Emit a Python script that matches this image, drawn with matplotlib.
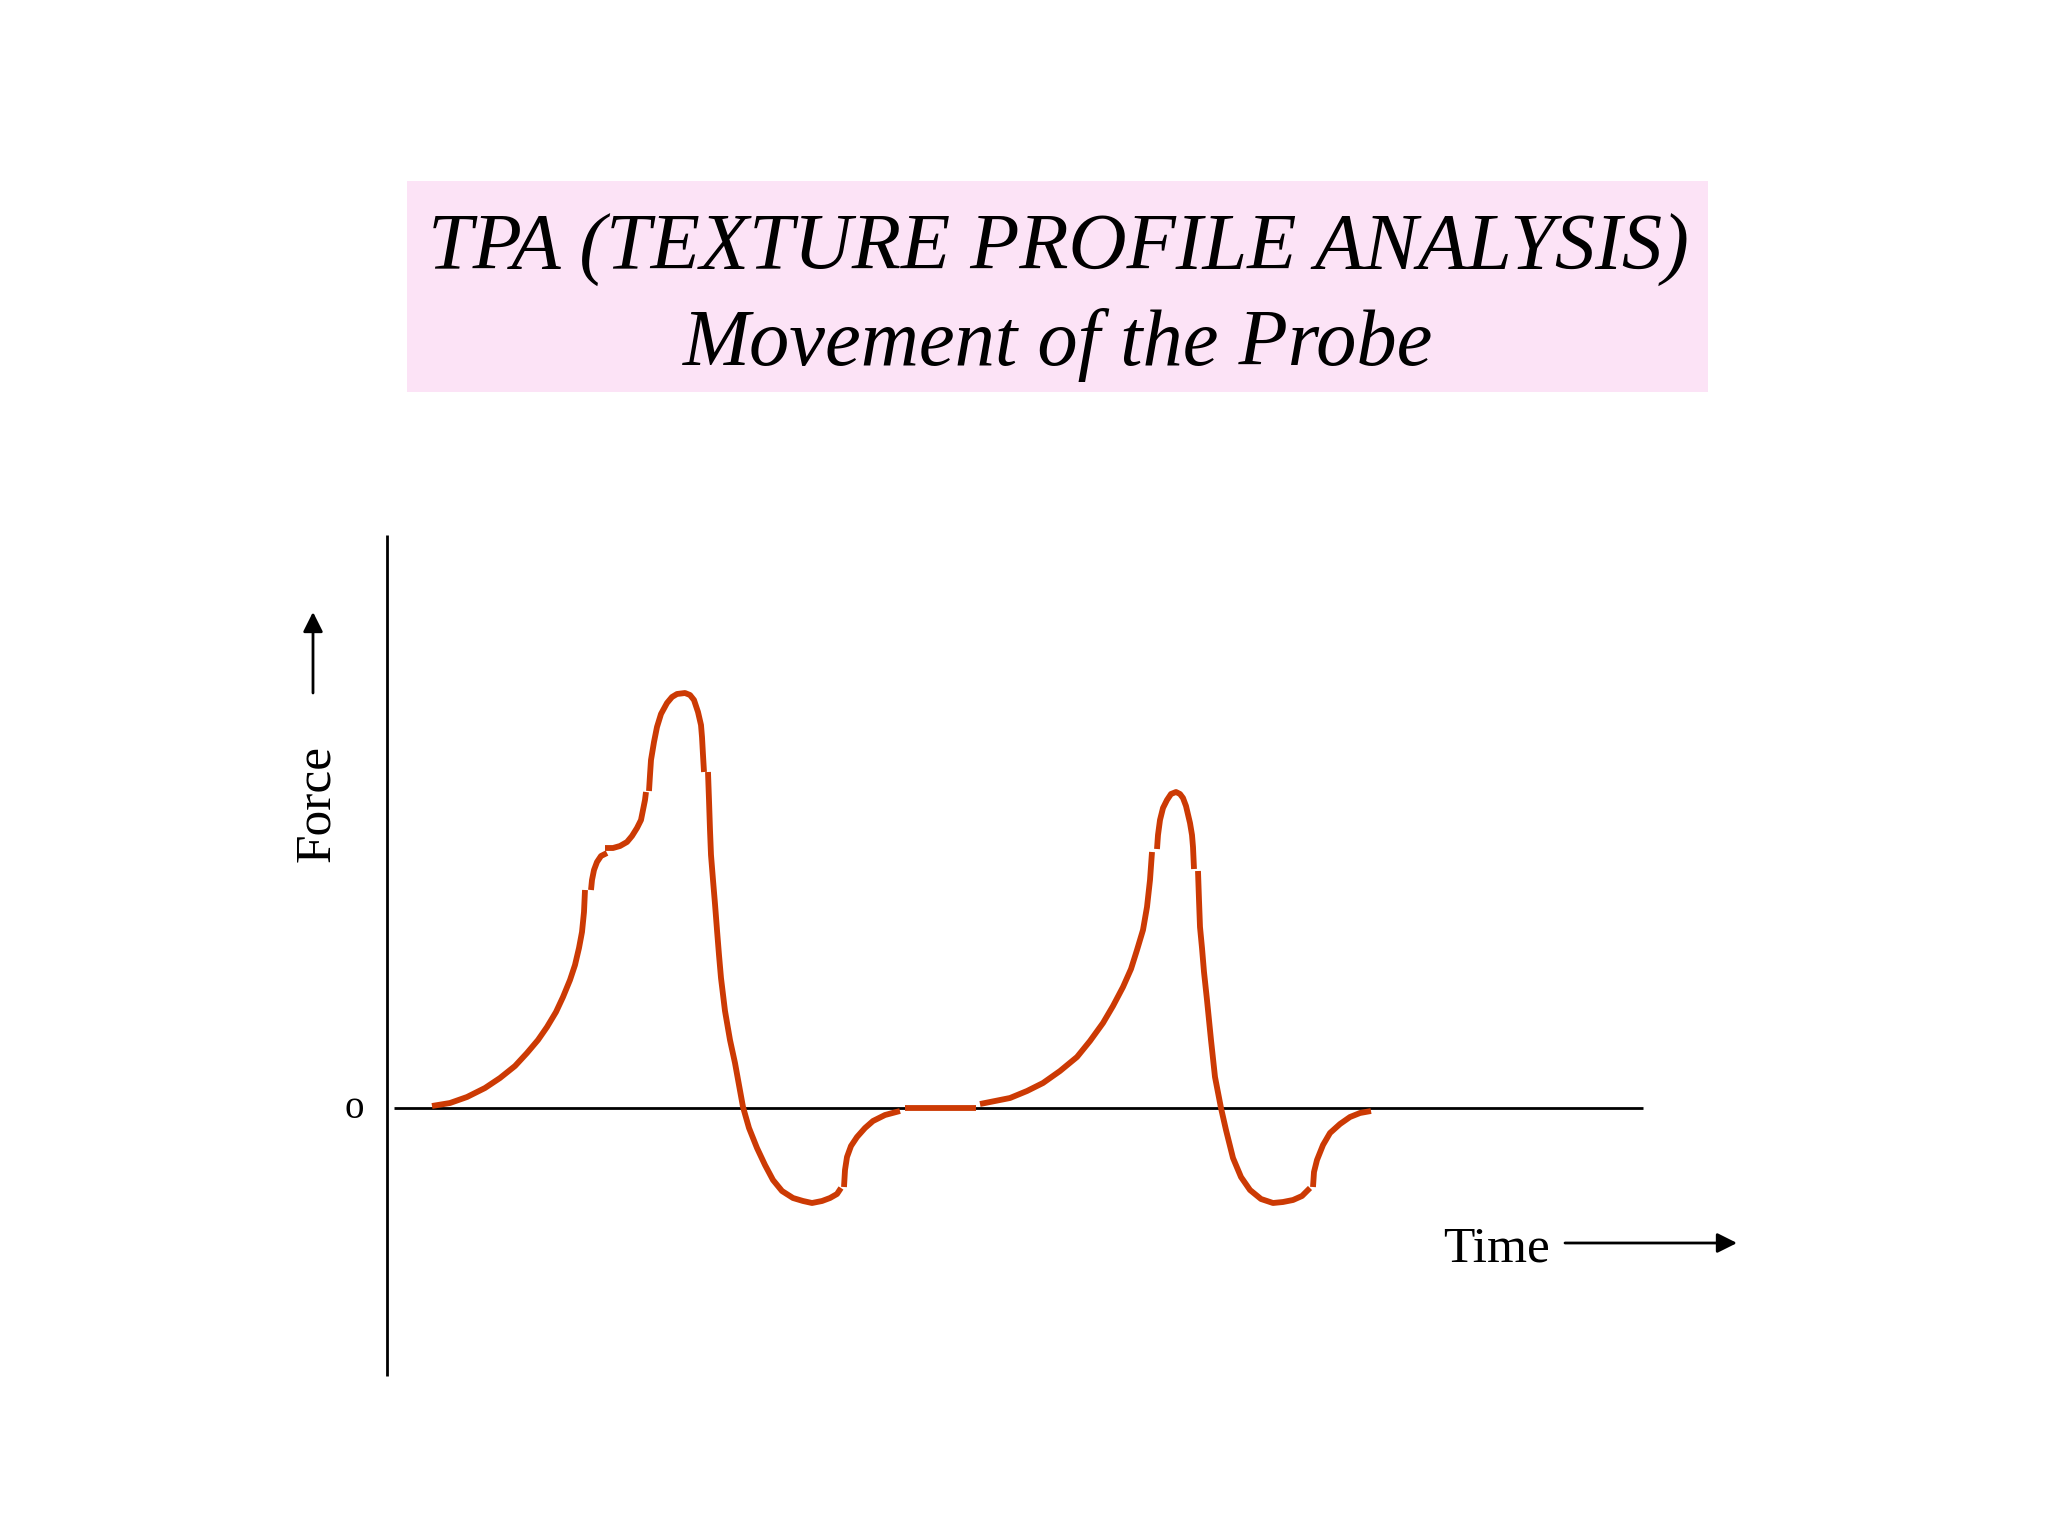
import matplotlib
matplotlib.use("Agg")
import matplotlib.pyplot as plt
from matplotlib.patches import Rectangle

# Curve pieces: time position and force (0 = baseline)
seg_a_t = [432, 450, 467, 485, 500, 515, 527, 538, 547, 556, 563, 570, 575, 579, 582, 584, 585]
seg_a_f = [2, 5, 11, 20, 30, 42, 55, 68, 81, 96, 111, 128, 143, 160, 176, 196, 218]

seg_b_t = [591, 592, 594, 597, 601, 607]
seg_b_f = [218, 228, 238, 246, 252, 255]

seg_c_t = [605, 613, 620, 627, 632, 637, 641, 643, 645, 646]
seg_c_f = [260, 260, 262, 266, 272, 280, 288, 298, 308, 316]

seg_d_t = [649, 650, 651, 654, 657, 661, 667, 672, 677, 685, 690, 694, 698, 701, 702, 703, 704]
seg_d_f = [317, 333, 348, 366, 381, 394, 405, 411, 414, 415, 413, 408, 396, 383, 371, 353, 336]

seg_e_t = [708, 709, 710, 711, 713, 715, 717, 719, 721, 725, 730, 735, 739, 743, 749, 757,
           765, 773, 782, 793, 803, 812, 822, 830, 837, 841]
seg_e_f = [336, 308, 278, 253, 228, 204, 178, 153, 130, 97, 68, 45, 23, 1, -20, -40,
           -57, -72, -83, -90, -93, -95, -93, -90, -86, -80]

seg_f_t = [844, 845, 847, 851, 857, 865, 873, 885, 900]
seg_f_f = [-79, -62, -49, -38, -29, -20, -13, -7, -3]

seg_g_t = [905, 976]
seg_g_f = [0, 0]

seg_h_t = [980, 995, 1010, 1027, 1043, 1060, 1077, 1090, 1103, 1113, 1123, 1131, 1137, 1143,
           1147, 1150, 1152]
seg_h_f = [4, 7, 10, 17, 25, 37, 51, 67, 85, 102, 121, 139, 158, 178, 201, 228, 256]

seg_i_t = [1157, 1158, 1160, 1163, 1167, 1171, 1176, 1180, 1183, 1186, 1190, 1192, 1193, 1194]
seg_i_f = [259, 273, 288, 300, 308, 314, 316, 314, 310, 302, 285, 273, 261, 239]

seg_j_t = [1198, 1199, 1200, 1202, 1204, 1207, 1211, 1215, 1221, 1226, 1233, 1241, 1250, 1261,
           1273, 1283, 1293, 1302, 1310]
seg_j_f = [237, 208, 181, 160, 136, 108, 68, 31, 0, -22, -50, -69, -82, -91,
           -95, -94, -92, -88, -80]

seg_k_t = [1313, 1314, 1317, 1323, 1330, 1340, 1350, 1360, 1371]
seg_k_f = [-79, -64, -52, -37, -25, -16, -9, -5, -3]

segments = [(seg_a_t, seg_a_f), (seg_b_t, seg_b_f), (seg_c_t, seg_c_f), (seg_d_t, seg_d_f),
            (seg_e_t, seg_e_f), (seg_f_t, seg_f_f), (seg_g_t, seg_g_f), (seg_h_t, seg_h_f),
            (seg_i_t, seg_i_f), (seg_j_t, seg_j_f), (seg_k_t, seg_k_f)]

title_1 = "TPA (TEXTURE PROFILE ANALYSIS)"
title_2 = "Movement of the Probe"

serif = "Liberation Serif"
curve_color = "#cc3a04"

fig = plt.figure(figsize=(20.48, 15.36), dpi=100)
ax = fig.add_axes([0, 0, 1, 1])
ax.set_xlim(0, 2048)
ax.set_ylim(1108 - 1536, 1108)
ax.axis("off")

# Title box
ax.add_patch(Rectangle((407, 716), 1301, 211, facecolor="#fce3f6", edgecolor="none"))
ax.text(1058, 838, title_1, fontsize=58, style="italic", family=serif,
        ha="center", va="baseline")
ax.text(1058, 743, title_2, fontsize=58, style="italic", family=serif,
        ha="center", va="baseline")

# Axes lines
ax.plot([387, 387], [573, -268], color="black", lw=2, solid_capstyle="butt")
ax.plot([394, 1643], [0, 0], color="black", lw=2, solid_capstyle="butt")

# Force-time curve
for t, f in segments:
    ax.plot(t, f, color=curve_color, lw=4.2, solid_capstyle="butt",
            solid_joinstyle="round", zorder=3)

# Labels
ax.text(354, 0, "o", fontsize=28, family=serif, ha="center", va="center")
ax.text(317, 305, "Force", fontsize=37, family=serif, rotation=90,
        ha="center", va="center")
ax.text(1443, -154, "Time", fontsize=37, family=serif, ha="left", va="baseline")

arrow = dict(arrowstyle="-|>,head_length=0.4,head_width=0.2", color="black",
             lw=2, shrinkA=0, shrinkB=0, mutation_scale=30)
ax.annotate("", xy=(313, 496), xytext=(313, 415), arrowprops=arrow)
ax.annotate("", xy=(1737, -135), xytext=(1565, -135), arrowprops=arrow)

fig.savefig("out.png", dpi=100, facecolor="white")
